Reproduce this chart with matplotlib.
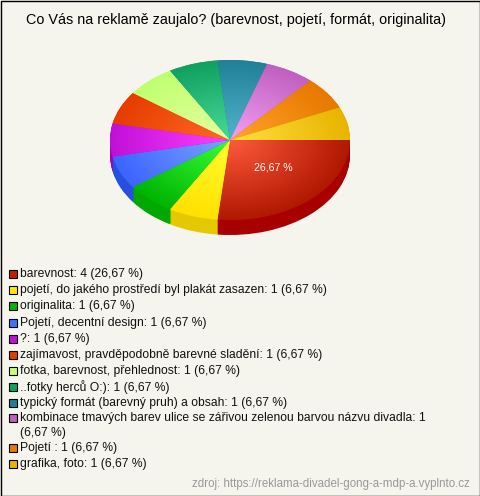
import numpy as np
import matplotlib
matplotlib.use('Agg')
import matplotlib.pyplot as plt
from matplotlib.colors import LinearSegmentedColormap
from matplotlib.patches import Rectangle

W, H = 480, 496
BG = '#F5F5ED'
TITLE = 'Co Vás na reklamě zaujalo? (barevnost, pojetí, formát, originalita)'
SOURCE = 'zdroj: https://reklama-divadel-gong-a-mdp-a.vyplnto.cz'
PCT_LABEL = '26,67 %'

names = ['barevnost', 'pojetí, do jakého prostředí byl plakát zasazen', 'originalita',
         'Pojetí, decentní design', '?', 'zajímavost, pravděpodobně barevné sladění',
         'fotka, barevnost, přehlednost', '..fotky herců O:)',
         'typický formát (barevný pruh) a obsah',
         'kombinace tmavých barev ulice se zářivou zelenou barvou názvu divadla',
         'Pojetí ', 'grafika, foto']
counts = [4, 1, 1, 1, 1, 1, 1, 1, 1, 1, 1, 1]
pcts = ['26,67', '6,67', '6,67', '6,67', '6,67', '6,67', '6,67', '6,67', '6,67', '6,67', '6,67', '6,67']
inner = ['#FF5A3C', '#FFFF30', '#38FF38', '#7AA4FF', '#FF40FF', '#FF6A28',
         '#E4FFA0', '#48DC98', '#52B4CC', '#F2A0F4', '#FFA428', '#FFE040']
outer = ['#B01800', '#FFE000', '#00B400', '#3C64FF', '#C010D8', '#E63C00',
         '#C0FF70', '#10A060', '#208098', '#C060C0', '#E87800', '#E8B400']
side = ['#A80000', '#E4C800', '#00A800', '#2850E0', '#A000B0', '#C83000',
        '#A0D860', '#108850', '#186878', '#A04CA0', '#C86400', '#C89800']
legend_y = [274, 290, 306, 323, 339, 355, 371, 387, 403, 418, 448, 464]
legend_sw = ['#C02000', '#FFE800', '#00B400', '#4070FF', '#C010D8', '#E04000',
             '#C8FF78', '#10A060', '#208098', '#C060C0', '#E87800', '#E8B400']

plt.rcParams['font.family'] = ['Liberation Sans', 'DejaVu Sans']
fig = plt.figure(figsize=(W / 100, H / 100), dpi=100, facecolor=BG)

CX, CY, RX, RY, DEPTH = 230, 140, 120, 80, 15
ax = fig.add_axes([0, 0, 1, 1])
lims = ((0 - CX) / RX, (W - CX) / RX, (CY - H) / RY, CY / RY)

# extruded side wall: stacked copies of the pie, lowest first
for d in range(DEPTH, 0, -1):
    ax.pie(counts, colors=side, startangle=0, counterclock=False, radius=1,
           center=(0, -d / RY), normalize=True)
wedges, _ = ax.pie(counts, colors=outer, startangle=0, counterclock=False, radius=1,
                   center=(0, 0), normalize=True)
ax.set_aspect('auto')
ax.set_xlim(lims[0], lims[1])
ax.set_ylim(lims[2], lims[3])
ax.axis('off')

# radial gradients clipped to each slice
yy, xx = np.mgrid[-1:1:320j, -1:1:480j]
rr = np.clip(np.hypot(xx, yy), 0, 1)
for w, a, b in zip(wedges, inner, outer):
    cmap = LinearSegmentedColormap.from_list('s', [a, b])
    im = ax.imshow(rr, cmap=cmap, vmin=0, vmax=1, extent=(-1, 1, -1, 1),
                   origin='lower', aspect='auto', zorder=3, interpolation='bilinear')
    im.set_clip_path(w)
ax.set_aspect('auto')
ax.set_xlim(lims[0], lims[1])
ax.set_ylim(lims[2], lims[3])

px = fig.add_axes([0, 0, 1, 1], facecolor='none')
px.set_xlim(0, W)
px.set_ylim(H, 0)
px.axis('off')

FS = 8.75
px.text(236, 20, TITLE, ha='center', va='center', fontsize=10.4, color='#000000')
px.text(273, 168, PCT_LABEL, ha='center', va='center', fontsize=7.6, color='#FFFFFF', zorder=10)

for n, c, p, y, col in zip(names, counts, pcts, legend_y, legend_sw):
    px.add_patch(Rectangle((9, y - 4), 8, 8, facecolor=col, edgecolor='#000000', lw=0.8))
    s = f'{n}: {c} ({p} %)'
    if n.startswith('kombinace'):
        px.text(20, y, f'{n}: {c}', ha='left', va='center', fontsize=FS, color='#111111')
        px.text(20, y + 15, f'({p} %)', ha='left', va='center', fontsize=FS, color='#111111')
    else:
        px.text(20, y, s, ha='left', va='center', fontsize=FS, color='#111111')

px.text(470, 484, SOURCE, ha='right', va='center', fontsize=8.3, color='#999999')
px.add_patch(Rectangle((0.5, 0.5), W - 1, H - 1, facecolor='none', edgecolor='#000000', lw=1))

fig.savefig('out.png', dpi=100, facecolor=BG)
